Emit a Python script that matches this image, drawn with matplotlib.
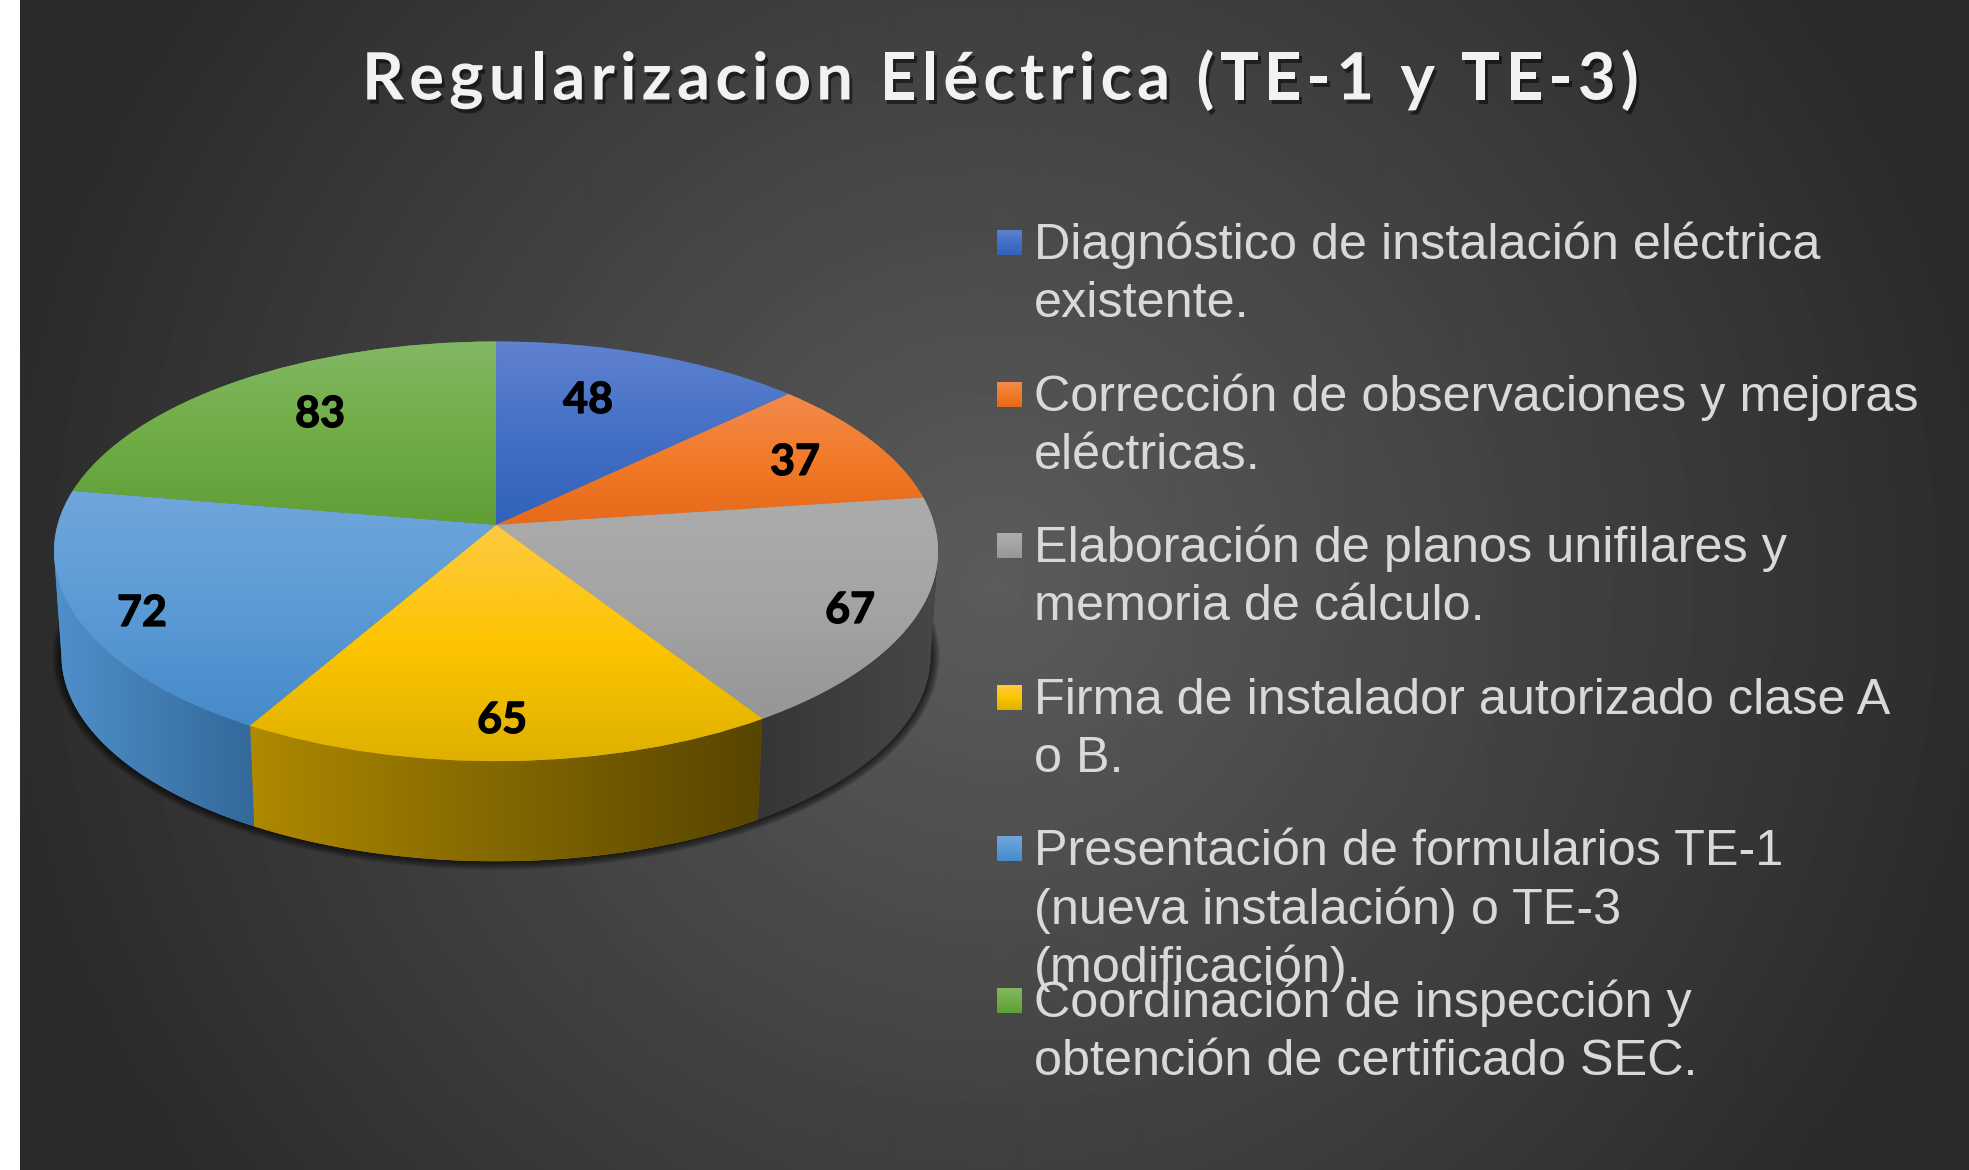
import numpy as np
import matplotlib
matplotlib.use("Agg")
import matplotlib.pyplot as plt
from matplotlib.colors import LinearSegmentedColormap
from matplotlib.patches import Polygon, Rectangle
from matplotlib.text import Text
from matplotlib.transforms import Transform
import matplotlib.patheffects as pe

# ---- data ----
categories = [
    "Diagnóstico de instalación eléctrica\nexistente.",
    "Corrección de observaciones y mejoras\neléctricas.",
    "Elaboración de planos unifilares y\nmemoria de cálculo.",
    "Firma de instalador autorizado clase A\no B.",
    "Presentación de formularios TE-1\n(nueva instalación) o TE-3\n(modificación).",
    "Coordinación de inspección y\nobtención de certificado SEC.",
]
values = [48, 37, 67, 65, 72, 83]
title = "Regularizacion Eléctrica (TE-1 y TE-3)"

# ---- style ----
W, H = 1969, 1170
top_grad = [
    ["#6082cf", "#4470c6", "#3162b9"],
    ["#f28b4e", "#f27a28", "#e56a1b"],
    ["#acacac", "#a4a4a4", "#969696"],
    ["#fdca42", "#fdc500", "#deb000"],
    ["#70a6dc", "#5b9bd5", "#468aca"],
    ["#83b864", "#70ad47", "#5f9f36"],
]
side_grad = [
    ["#3a5a9a", "#26457c"],
    ["#c0601f", "#8a4010"],
    ["#363636", "#474747"],
    ["#ae8900", "#574400"],
    ["#4f90cb", "#33689a"],
    ["#5a8a38", "#3c6025"],
]
label_xy = [(588, 400), (795, 462), (850, 610), (502, 720), (142, 613), (320, 414)]
S = 1969 / 1568


class Persp(Transform):
    input_dims = 2
    output_dims = 2

    def __init__(self, x0, y0, a, b, k):
        super().__init__()
        self.x0, self.y0, self.a, self.b, self.k = x0, y0, a, b, k

    def transform_non_affine(self, pts):
        pts = np.asarray(pts, float)
        w = 1 + self.k * pts[:, 1]
        return np.column_stack([self.x0 + self.a * pts[:, 0] / w,
                                self.y0 - self.b * pts[:, 1] / w])


class SpacedText(Text):
    """One text whose glyphs are drawn with extra tracking (pixels)."""
    tracking = 0.0

    def draw(self, renderer):
        full = self.get_text()
        x0, y0 = self.get_position()
        fp = self.get_fontproperties()
        for i, ch in enumerate(full):
            adv = renderer.get_text_width_height_descent(full[:i] + "|", fp, False)[0] \
                - renderer.get_text_width_height_descent("|", fp, False)[0]
            self._text = ch
            self.set_x(x0 + adv + i * self.tracking)
            super().draw(renderer)
        self._text = full
        self.set_x(x0)


def grad_image(ax, cols, bbox, clip, horizontal=False, z=3):
    cmap = LinearSegmentedColormap.from_list("g", cols)
    g = np.linspace(0, 1, 256)
    arr = g[None, :] if horizontal else g[:, None]
    x0, x1, y0, y1 = bbox
    im = ax.imshow(arr, cmap=cmap, extent=(x0, x1, y1, y0), aspect="auto",
                   zorder=z, interpolation="bilinear", vmin=0, vmax=1)
    im.set_clip_path(clip)
    return im


fig = plt.figure(figsize=(W / 100, H / 100), dpi=100, facecolor="white")
ax = fig.add_axes([0, 0, 1, 1])

# pie wedges from the library, then projected in perspective
wedges, _ = ax.pie(values, startangle=90, counterclock=False, radius=1)
ax.set_aspect("auto")

K = 0.1258
top = Persp(395 * S, 418 * S, 349.2 * S, 164.4 * S, K)
bot = Persp(395 * S, 501 * S, 343.3 * S, 161.6 * S, K)

# background radial gradient
yy, xx = np.mgrid[0:H:2, 20:W:2]
d = np.hypot(xx - 995, yy - 585)
bg = np.clip(92 - 0.049 * d, 42, 92) / 255
ax.imshow(bg, cmap="gray", vmin=0, vmax=1, extent=(20, W, H, 0), aspect="auto",
          zorder=0, interpolation="bilinear")

# contact shadow under the pie body
phi = np.radians(np.linspace(-188, 8, 300))
rim = bot.transform(np.column_stack([np.cos(phi), np.sin(phi)]))
cx, cy = 395 * S, 501 * S
for grow in np.linspace(9, 1, 9):
    sc = np.array([(rim[:, 0] - cx) * (1 + grow / (343 * S)) + cx,
                   (rim[:, 1] - cy) * (1 + grow / (190 * S)) + cy]).T
    ax.add_patch(Polygon(sc, closed=True, fc="black", ec="none", alpha=0.09, zorder=1))

# side walls: only the arc below the silhouette tangent (sin = -K)
for w, cols in zip(wedges, side_grad):
    t = np.radians(np.linspace(w.theta1, w.theta2, 200))
    t = t[np.sin(t) <= -K]
    if t.size < 2:
        continue
    uv = np.column_stack([np.cos(t), np.sin(t)])
    a, b = top.transform(uv), bot.transform(uv)
    poly = np.vstack([a, b[::-1]])
    p = Polygon(poly, closed=True, fc=cols[0], ec="none", zorder=2)
    ax.add_patch(p)
    grad_image(ax, cols, (poly[:, 0].min(), poly[:, 0].max(), poly[:, 1].min(), poly[:, 1].max()),
               p, horizontal=True, z=2.5)

# top faces
for w, cols in zip(wedges, top_grad):
    w.set_transform(top + ax.transData)
    w.set_facecolor(cols[1])
    w.set_edgecolor("none")
    w.set_zorder(3)
    v = top.transform(w.get_path().vertices)
    grad_image(ax, cols, (v[:, 0].min(), v[:, 0].max(), v[:, 1].min(), v[:, 1].max()), w, z=3.5)

# data labels
for val, (x, y) in zip(values, label_xy):
    ax.text(x, y, str(val), ha="center", va="center", fontsize=31, fontweight="bold",
            family="Lato", color="black", zorder=6,
            path_effects=[pe.withStroke(linewidth=0.9, foreground="black")])

# title
tt = SpacedText(362, 81, title, ha="left", va="center", fontsize=47, fontweight="bold",
                family="Lato", color="#f2f2f2", zorder=6,
                path_effects=[pe.withSimplePatchShadow(offset=(2, -3), shadow_rgbFace="black", alpha=0.5)])
tt.tracking = 5.2
ax.add_artist(tt)

# legend
for i, (lab, cols) in enumerate(zip(categories, top_grad)):
    ky = 230 + 151.6 * i
    key = Rectangle((997, ky), 25, 25, fc=cols[1], ec="none", zorder=5)
    ax.add_patch(key)
    grad_image(ax, cols, (997, 1022, ky, ky + 25), key, z=5.5)
    for j, line in enumerate(lab.split("\n")):
        ax.text(1034, 259 + 151.6 * i + 58.3 * j, line, ha="left", va="baseline",
                fontsize=36.3, family="Liberation Sans", color="#d9d9d9", zorder=6)

ax.set_xlim(0, W)
ax.set_ylim(H, 0)
ax.set_xticks([])
ax.set_yticks([])
ax.set_frame_on(False)

fig.savefig("out.png", dpi=100, facecolor="white")
